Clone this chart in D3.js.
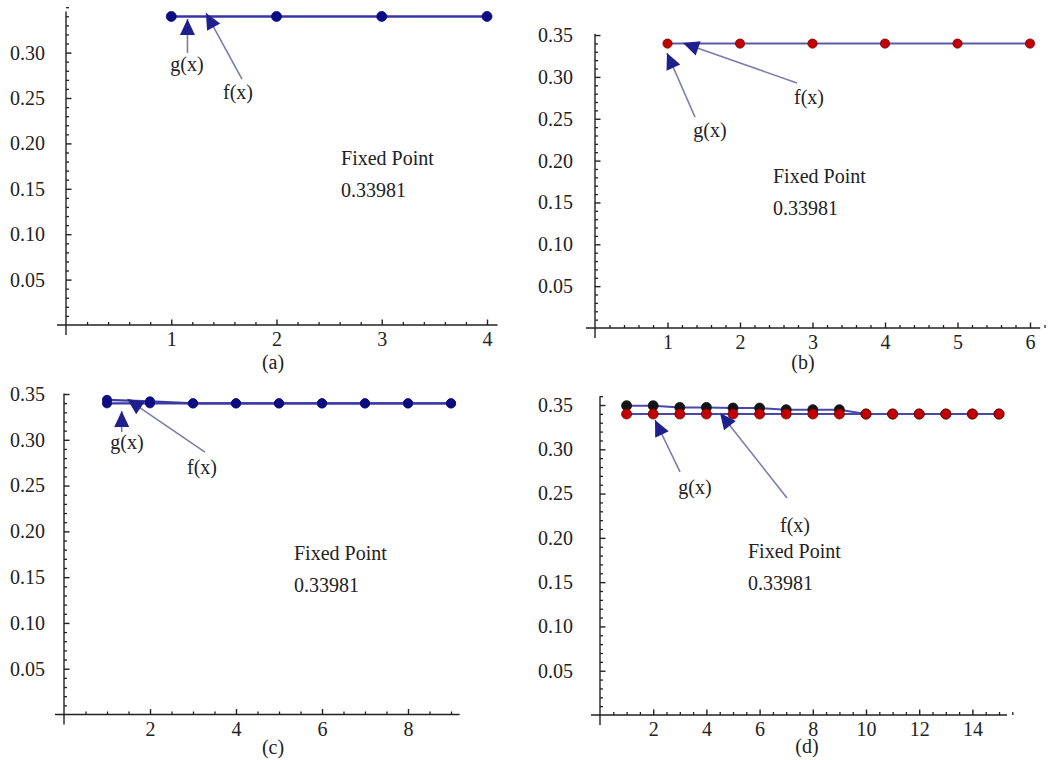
<!DOCTYPE html>
<html>
<head>
<meta charset="utf-8">
<script src="https://cdn.jsdelivr.net/npm/d3@7"></script>
<style>
  body { margin: 0; background: #fff; }
  svg text { font-family: "Liberation Serif", "Times New Roman", Times, "DejaVu Serif", serif !important; fill: #222; }
</style>
</head>
<body>
<svg id="fig" width="1056" height="760" font-family="Liberation Serif, Times New Roman, DejaVu Serif, serif"></svg>
<script>
// ---- iterates of f(x) and g(x) for the four runs ----
const xA = [1, 2, 3, 4];
const fA = [0.33981, 0.33981, 0.33981, 0.33981];

const xB = [1, 2, 3, 4, 5, 6];
const fB = [0.33981, 0.33981, 0.33981, 0.33981, 0.33981, 0.33981];

const xC = [1, 2, 3, 4, 5, 6, 7, 8, 9];
const gC = [0.33981, 0.33981, 0.33981, 0.33981, 0.33981, 0.33981, 0.33981, 0.33981, 0.33981];
const fC = [0.3436, 0.3420, 0.33981, 0.33981, 0.33981, 0.33981, 0.33981, 0.33981, 0.33981];

const xD = [1, 2, 3, 4, 5, 6, 7, 8, 9, 10, 11, 12, 13, 14, 15];
const gD = [0.33981, 0.33981, 0.33981, 0.33981, 0.33981, 0.33981, 0.33981, 0.33981,
            0.33981, 0.33981, 0.33981, 0.33981, 0.33981, 0.33981, 0.33981];
const fD = [0.3492, 0.3492, 0.3473, 0.3473, 0.3466, 0.3466, 0.3447, 0.3447,
            0.3447, 0.33981, 0.33981, 0.33981, 0.33981, 0.33981, 0.33981];

// ---- tick values ----
const yTicksA = [0.05, 0.10, 0.15, 0.20, 0.25, 0.30];
const yTicks = [0.05, 0.10, 0.15, 0.20, 0.25, 0.30, 0.35];
const xTicksA = [1, 2, 3, 4];
const xTicksB = [1, 2, 3, 4, 5, 6];
const xTicksC = [2, 4, 6, 8];
const xTicksD = [2, 4, 6, 8, 10, 12, 14];

const panelNames = ["(a)", "(b)", "(c)", "(d)"];
const fixedLabel = ["Fixed Point", "0.33981"];

// ---- annotation anchors (data coordinates) ----
const arrowsA = [
  { text: "g(x)", tip: [1.154, 0.3370], tail: [1.154, 0.2996], at: [1.15, 0.2874] },
  { text: "f(x)", tip: [1.330, 0.3436], tail: [1.672, 0.2709], at: [1.634, 0.2566] }
];
const arrowsB = [
  { text: "g(x)", tip: [0.993, 0.3286], tail: [1.379, 0.2521], at: [1.586, 0.2366] },
  { text: "f(x)", tip: [1.214, 0.3405], tail: [2.786, 0.2927], at: [2.952, 0.2760] }
];
const arrowsC = [
  { text: "g(x)", tip: [1.342, 0.3314], tail: [1.342, 0.3085], at: [1.465, 0.2977] },
  { text: "f(x)", tip: [1.470, 0.3445], tail: [3.279, 0.2866], at: [3.209, 0.2702] }
];
const arrowsD = [
  { text: "g(x)", tip: [2.068, 0.3331], tail: [3.008, 0.2744], at: [3.571, 0.2574] },
  { text: "f(x)", tip: [4.511, 0.3410], tail: [7.030, 0.2450], at: [7.331, 0.2145] }
];
const fixedAt = [[2.613, 0.1840], [2.455, 0.1816], [5.349, 0.1764], [5.564, 0.1852]];

// ---- colours ----
const NAVY = "#0c0c82", RED = "#c20000", BLACK = "#141414";
const SERIF = "Liberation Serif, Times New Roman, DejaVu Serif, serif";

const panels = [
  { name: panelNames[0], x: xA, series: [{ ys: fA, fill: NAVY, stroke: NAVY }],
    xTicks: xTicksA, xMinor: 0.2, yTicks: yTicksA, arrows: arrowsA, fixed: fixedAt[0],
    px: [66, 105.25], py: [325, 908], xMax: 4.1, yMax: 0.3452,
    line: { color: "#3535a6", width: 2.6 }, r: 5, yPad: 21, nameAt: [273, 363] },
  { name: panelNames[1], x: xB, series: [{ ys: fB, fill: RED, stroke: "#7a0000" }],
    xTicks: xTicksB, xMinor: 0.2, yTicks: yTicks, arrows: arrowsB, fixed: fixedAt[1],
    px: [595, 72.5], py: [328, 837], xMax: 6.14, yMax: 0.3515,
    line: { color: "#5a5aab", width: 2 }, r: 4.6, yPad: 22, nameAt: [803, 363] },
  { name: panelNames[2], x: xC, series: [{ ys: fC, fill: NAVY, stroke: NAVY }, { ys: gC, fill: NAVY, stroke: NAVY }],
    xTicks: xTicksC, xMinor: 0.5, yTicks: yTicks, arrows: arrowsC, fixed: fixedAt[2],
    px: [64, 43], py: [714.5, 915.7], xMax: 9.2, yMax: 0.3505,
    line: { color: "#3a3aa6", width: 2.2 }, r: 4.6, yPad: 19, nameAt: [273, 748] },
  { name: panelNames[3], x: xD, series: [{ ys: fD, fill: BLACK, stroke: BLACK }, { ys: gD, fill: RED, stroke: "#7a0000" }],
    xTicks: xTicksD, xMinor: 0.5, yTicks: yTicks, arrows: arrowsD, fixed: fixedAt[3],
    px: [600, 26.6], py: [715, 885.7], xMax: 15.3, yMax: 0.36,
    line: { color: "#4848a8", width: 2 }, r: 5, yPad: 27, nameAt: [807, 747] }
];

const svg = d3.select("#fig");

// arrowhead used by the g(x)/f(x) pointers
svg.append("defs").append("marker")
  .attr("id", "head")
  .attr("markerUnits", "userSpaceOnUse")
  .attr("viewBox", "-17 -8 18 16")
  .attr("markerWidth", 18).attr("markerHeight", 16)
  .attr("refX", 0).attr("refY", 0)
  .attr("orient", "auto")
  .append("path")
  .attr("d", "M0,0 L-16,-7.5 L-16,7.5 Z")
  .attr("fill", "#1f1f8e");

const range = (a, b, s) => d3.range(Math.round(a / s), Math.round(b / s) + 1).map(k => +(k * s).toFixed(4));

panels.forEach(p => {
  const x = d3.scaleLinear().domain([0, p.xMax]).range([p.px[0], p.px[0] + p.xMax * p.px[1]]);
  const y = d3.scaleLinear().domain([0, p.yMax]).range([p.py[0], p.py[0] - p.yMax * p.py[1]]);
  const g = svg.append("g");
  const x0 = x(0), y0 = y(0);

  // axis lines, crossing slightly past the origin
  g.append("line").attr("x1", x0 - 9).attr("x2", x(p.xMax)).attr("y1", y0).attr("y2", y0)
    .attr("stroke", "#222").attr("stroke-width", 1.4);
  g.append("line").attr("x1", x0).attr("x2", x0).attr("y1", y0 + 10).attr("y2", y(p.yMax))
    .attr("stroke", "#222").attr("stroke-width", 1.4);

  // minor ticks
  const xMinor = range(p.xMinor, p.xMax, p.xMinor).filter(v => !p.xTicks.includes(v));
  g.append("g").attr("transform", `translate(0,${y0})`)
    .call(d3.axisBottom(x).tickValues(xMinor).tickSize(-3).tickFormat(""))
    .call(a => a.select(".domain").remove())
    .selectAll("line").attr("stroke", "#222").attr("stroke-width", 1.3);
  const yMinor = range(0.01, p.yMax, 0.01).filter(v => !p.yTicks.some(t => Math.abs(t - v) < 1e-6));
  g.append("g").attr("transform", `translate(${x0},0)`)
    .call(d3.axisLeft(y).tickValues(yMinor).tickSize(-3).tickFormat(""))
    .call(a => a.select(".domain").remove())
    .selectAll("line").attr("stroke", "#222").attr("stroke-width", 1.3);

  // major ticks with labels
  const xa = g.append("g").attr("transform", `translate(0,${y0})`)
    .call(d3.axisBottom(x).tickValues(p.xTicks).tickSize(-5.5).tickPadding(7).tickFormat(d3.format("d")));
  xa.attr("font-family", SERIF).attr("font-size", 20);
  xa.select(".domain").remove();
  xa.selectAll("line").attr("stroke", "#222").attr("stroke-width", 1.4);
  xa.selectAll("text").attr("fill", "#222");

  const ya = g.append("g").attr("transform", `translate(${x0},0)`)
    .call(d3.axisLeft(y).tickValues(p.yTicks).tickSize(-5.5).tickPadding(p.yPad).tickFormat(d3.format(".2f")));
  ya.attr("font-family", SERIF).attr("font-size", 20);
  ya.select(".domain").remove();
  ya.selectAll("line").attr("stroke", "#222").attr("stroke-width", 1.4);
  ya.selectAll("text").attr("fill", "#222");

  // joined iterates
  const line = d3.line().x((d, i) => x(p.x[i])).y(d => y(d));
  p.series.forEach(s => {
    g.append("path").datum(s.ys).attr("d", line)
      .attr("fill", "none").attr("stroke", p.line.color).attr("stroke-width", p.line.width);
  });
  p.series.forEach(s => {
    g.selectAll(null).data(s.ys).join("circle")
      .attr("cx", (d, i) => x(p.x[i])).attr("cy", d => y(d)).attr("r", p.r)
      .attr("fill", s.fill).attr("stroke", s.stroke).attr("stroke-width", 0.8);
  });

  // pointers
  p.arrows.forEach(a => {
    g.append("line")
      .attr("x1", x(a.tail[0])).attr("y1", y(a.tail[1]))
      .attr("x2", x(a.tip[0])).attr("y2", y(a.tip[1]))
      .attr("stroke", "#7c7cae").attr("stroke-width", 1.6)
      .attr("marker-end", "url(#head)");
    g.append("text").attr("x", x(a.at[0])).attr("y", y(a.at[1])).attr("dy", "0.35em")
      .attr("text-anchor", "middle").attr("font-size", 20).attr("font-family", SERIF).text(a.text);
  });

  // fixed point note
  g.append("text").attr("x", x(p.fixed[0])).attr("y", y(p.fixed[1])).attr("dy", "0.35em")
    .attr("font-size", 20).attr("font-family", SERIF).text(fixedLabel[0]);
  g.append("text").attr("x", x(p.fixed[0])).attr("y", y(p.fixed[1])).attr("dy", "1.95em")
    .attr("font-size", 20).attr("font-family", SERIF).text(fixedLabel[1]);

  // panel caption
  g.append("text").attr("x", p.nameAt[0]).attr("y", p.nameAt[1]).attr("dy", "0.3em")
    .attr("text-anchor", "middle").attr("font-size", 20).attr("font-family", SERIF).text(p.name);
});
</script>
</body>
</html>
